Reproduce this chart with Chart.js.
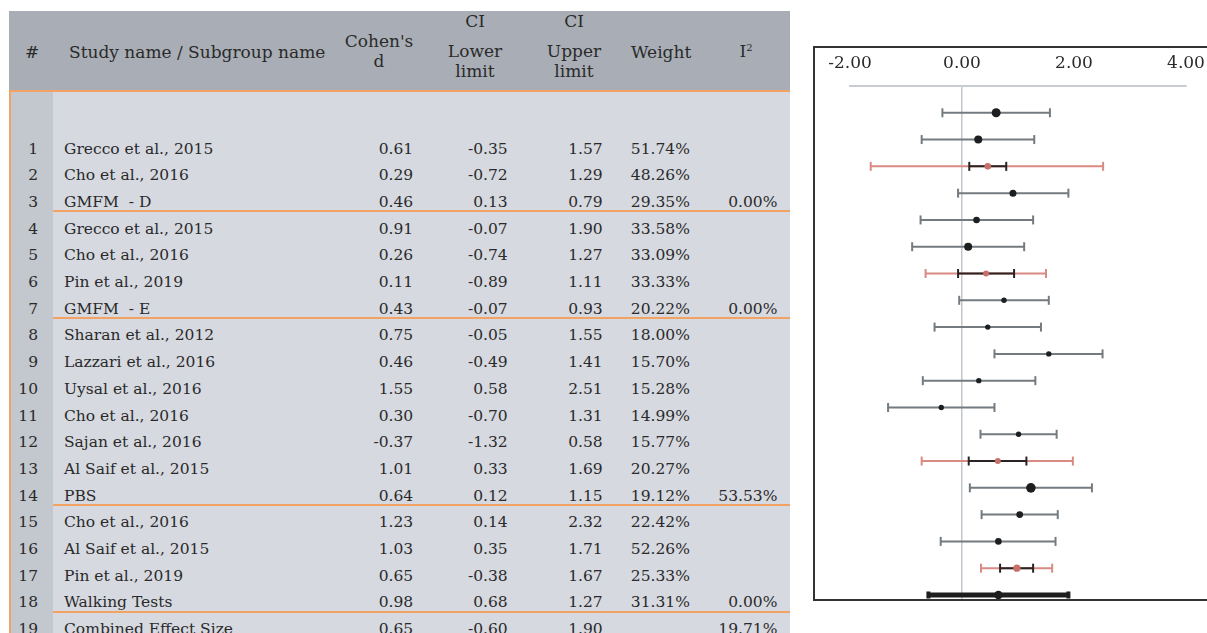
<!DOCTYPE html>
<html><head><meta charset="utf-8">
<script src="https://cdn.jsdelivr.net/npm/chart.js@4.4.1/dist/chart.umd.min.js"></script>
<style>
html,body{margin:0;padding:0;background:#fff;width:1207px;height:633px;overflow:hidden;position:relative;font-family:"DejaVu Serif",serif;color:#2a2a2a;}
.t{position:absolute;white-space:pre;line-height:20px;height:20px;font-size:15.5px;}
.h{font-size:17px;}
#hdr{position:absolute;left:9px;top:11px;width:781px;height:79px;background:#a9aeb6;}
#hline{position:absolute;left:9px;top:90px;width:781px;height:2px;background:#f2a263;}
#bodybg{position:absolute;left:9px;top:92px;width:781px;height:541px;background:#d6d9e0;}
#numcol{position:absolute;left:11px;top:92px;width:42px;height:541px;background:#c3c7ce;}
#lline{position:absolute;left:9px;top:90px;width:2px;height:543px;background:#f2a263;}
.sep{position:absolute;left:53px;width:737px;height:2px;background:#f2a263;}
#frame{position:absolute;left:813px;top:46px;width:420px;height:551px;border:2px solid #333;}
#plot{position:absolute;left:815px;top:48px;}
sup{font-size:10px;vertical-align:top;position:relative;top:-3px;}
</style></head><body>
<div id="hdr"></div><div id="bodybg"></div><div id="numcol"></div><div id="hline"></div><div id="lline"></div>
<div id="table"></div>
<div id="frame"></div>
<canvas id="plot" width="392" height="551"></canvas>
<script>
// ---------- data ----------
const names = ["Grecco et al., 2015","Cho et al., 2016","GMFM  - D","Grecco et al., 2015","Cho et al., 2016","Pin et al., 2019","GMFM  - E","Sharan et al., 2012","Lazzari et al., 2016","Uysal et al., 2016","Cho et al., 2016","Sajan et al., 2016","Al Saif et al., 2015","PBS","Cho et al., 2016","Al Saif et al., 2015","Pin et al., 2019","Walking Tests","Combined Effect Size"];
const cohensD = [0.61,0.29,0.46,0.91,0.26,0.11,0.43,0.75,0.46,1.55,0.30,-0.37,1.01,0.64,1.23,1.03,0.65,0.98,0.65];
const ciLower = [-0.35,-0.72,0.13,-0.07,-0.74,-0.89,-0.07,-0.05,-0.49,0.58,-0.70,-1.32,0.33,0.12,0.14,0.35,-0.38,0.68,-0.60];
const ciUpper = [1.57,1.29,0.79,1.90,1.27,1.11,0.93,1.55,1.41,2.51,1.31,0.58,1.69,1.15,2.32,1.71,1.67,1.27,1.90];
const weights = ["51.74%","48.26%","29.35%","33.58%","33.09%","33.33%","20.22%","18.00%","15.70%","15.28%","14.99%","15.77%","20.27%","19.12%","22.42%","52.26%","25.33%","31.31%",""];
const iSquared = ["","","0.00%","","","","0.00%","","","","","","","53.53%","","","","0.00%","19.71%"];
const summaryRows = [3,7,14,18];
const totalRow = 19;
const piLower = [-1.63,-0.65,-0.72,0.34];
const piUpper = [2.52,1.50,1.98,1.61];
const xTicks = [-2,0,2,4];

// ---------- styles ----------
const markerRadius = [4.5,4,3.3,3.5,3.3,4,3,2.7,2.7,2.7,2.7,2.7,2.7,3,4.8,3.4,3.3,3.6,4.3];

// ---------- table ----------
const tbl = document.getElementById('table');
function txt(s, opts){
  const d = document.createElement('div');
  d.className = 't' + (opts.head ? ' h' : '');
  if (opts.html) d.innerHTML = s; else d.textContent = s;
  d.style.top = (opts.cy - 10) + 'px';
  if (opts.align === 'right'){ d.style.left = (opts.x - 200)+'px'; d.style.width='200px'; d.style.textAlign='right'; }
  else if (opts.align === 'center'){ d.style.left = (opts.x - 100)+'px'; d.style.width='200px'; d.style.textAlign='center'; }
  else d.style.left = opts.x + 'px';
  tbl.appendChild(d);
}
function dec(s, x, cy){
  if (!s) return;
  const k = s.indexOf('.');
  txt(s.slice(0,k), {x:x, cy:cy, align:'right'});
  txt(s.slice(k), {x:x, cy:cy});
}
// header
txt('#', {x:32, cy:52, align:'center', head:true});
txt('Study name / Subgroup name', {x:69, cy:52, head:true});
txt("Cohen's", {x:379, cy:41, align:'center', head:true});
txt('d', {x:379, cy:61, align:'center', head:true});
txt('CI', {x:475, cy:21, align:'center', head:true});
txt('Lower', {x:475, cy:51, align:'center', head:true});
txt('limit', {x:475, cy:71, align:'center', head:true});
txt('CI', {x:574, cy:21, align:'center', head:true});
txt('Upper', {x:574, cy:51, align:'center', head:true});
txt('limit', {x:574, cy:71, align:'center', head:true});
txt('Weight', {x:631, cy:52, head:true});
txt('I<sup>2</sup>', {x:746, cy:51, align:'center', html:true, head:true});
// rows
const ROW0 = 148.5, ROWH = 26.7;
names.forEach((n, i) => {
  const cy = ROW0 + ROWH * i;
  txt(String(i+1), {x:38, cy:cy, align:'right'});
  txt(n, {x:64, cy:cy});
  dec(cohensD[i].toFixed(2), 388.5, cy);
  dec(ciLower[i].toFixed(2), 483, cy);
  dec(ciUpper[i].toFixed(2), 578, cy);
  dec(weights[i], 650.5, cy);
  dec(iSquared[i], 738, cy);
  if (summaryRows.includes(i+1)) {
    const s = document.createElement('div');
    s.className = 'sep';
    s.style.top = (cy + 8.5) + 'px';
    tbl.appendChild(s);
  }
});

// ---------- forest plot ----------
const GRAY = '#737b80', RED = '#d98a82', REDPT = '#c8706a', BLACK = '#1e1e1e', CIBLACK = '#2a2323';
const grayData = [], blackData = [], redData = [], totalData = [], pointData = [];
const gap = {x: NaN, y: NaN};
names.forEach((n, i) => {
  const r = i + 1;
  pointData.push({x: cohensD[i], y: r});
  if (r === totalRow) { totalData.push({x: ciLower[i], y: r}, {x: ciUpper[i], y: r}); }
  else if (summaryRows.includes(r)) {
    const k = summaryRows.indexOf(r);
    redData.push({x: piLower[k], y: r}, {x: piUpper[k], y: r}, gap);
    blackData.push({x: ciLower[i], y: r}, {x: ciUpper[i], y: r}, gap);
  } else {
    grayData.push({x: ciLower[i], y: r}, {x: ciUpper[i], y: r}, gap);
  }
});
const pointColors = names.map((n, i) => summaryRows.includes(i+1) ? REDPT : BLACK);

function whisker(data, color, order, lw, capR, capW){
  return {type:'line', data, showLine:true, spanGaps:false, borderColor:color, borderWidth:lw,
    pointStyle:'line', pointRotation:90, pointRadius:capR, pointBorderColor:color, pointBorderWidth:capW,
    pointHoverRadius:capR, fill:false, tension:0, order, clip:false, borderCapStyle:'butt'};
}

new Chart(document.getElementById('plot'), {
  type: 'scatter',
  data: { datasets: [
    {type:'scatter', data: pointData, pointRadius: markerRadius, pointHoverRadius: markerRadius,
     backgroundColor: pointColors, borderWidth: 0, pointBorderWidth:0, order: 0, clip:false},
    whisker(blackData, CIBLACK, 1, 2, 4.5, 2),
    whisker(totalData, BLACK, 1, 5, 3.5, 4),
    whisker(redData, RED, 2, 2, 4.5, 2),
    whisker(grayData, GRAY, 3, 2, 4.5, 2)
  ]},
  options: {
    responsive: false, animation: false, events: [],
    layout: { autoPadding: false, padding: { left: 35, right: 21, top: 0, bottom: 0 } },
    plugins: { legend: {display:false}, tooltip: {enabled:false} },
    scales: {
      x: { type:'linear', position:'top', min: xTicks[0], max: xTicks[xTicks.length-1],
        afterBuildTicks: s => { s.ticks = xTicks.map(v => ({value: v})); },
        afterFit: s => { s.height = 38; s.paddingLeft = 0; s.paddingRight = 0; },
        ticks: { padding: 12, color:'#2a2a2a', font:{family:'DejaVu Serif', size:17},
          callback: v => Number(v).toFixed(2), maxRotation:0, autoSkip:false },
        grid: { drawTicks:false, lineWidth:1.5, color: c => (c.tick && c.tick.value === 0) ? '#c2c6cd' : 'rgba(0,0,0,0)' },
        border: { display:true, color:'#c8ccd2', width:2 }
      },
      y: { type:'linear', reverse:true, min:0, max:19.15, display:false }
    }
  }
});
</script>
</body></html>
